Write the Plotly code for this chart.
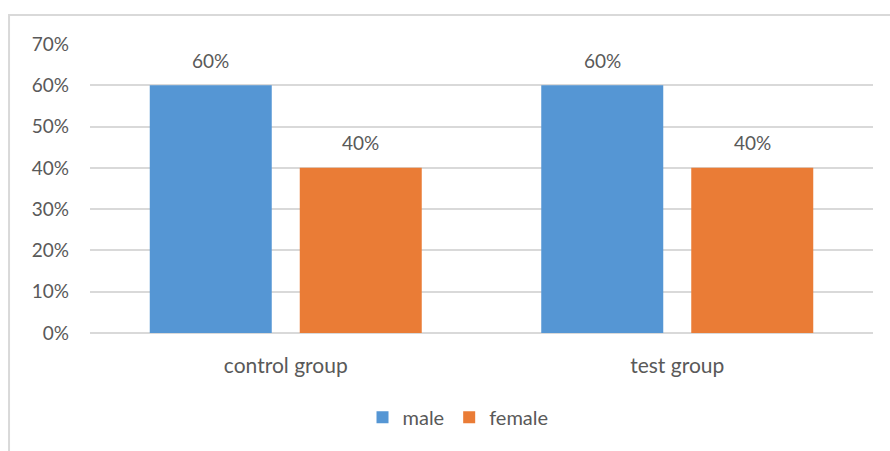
import plotly.graph_objects as go

categories = ["control group", "test group"]
male = [0.60, 0.60]
female = [0.40, 0.40]
tick_vals = [0, 0.1, 0.2, 0.3, 0.4, 0.5, 0.6, 0.7]
tick_text = ["0%", "10%", "20%", "30%", "40%", "50%", "60%", "70%"]

font_family = "Lato, 'Open Sans', sans-serif"
gray = "#595959"

fig = go.Figure()
fig.add_trace(go.Bar(
    name="male", x=categories, y=male,
    marker=dict(color="#5596d4", line=dict(width=0)),
))
fig.add_trace(go.Bar(
    name="female", x=categories, y=female,
    marker=dict(color="#ea7c36", line=dict(width=0)),
))

annotations = []
for series, shift in ((male, -75), (female, 75)):
    for c, v in zip(categories, series):
        annotations.append(dict(x=c, y=v, xref="x", yref="y", text=f"{v:.0%}",
                                showarrow=False, xshift=shift, yshift=25,
                                font=dict(size=19, color=gray, family=font_family)))

fig.update_layout(
    width=890, height=451,
    margin=dict(l=90, r=17, t=44, b=118, autoexpand=False),
    paper_bgcolor="white", plot_bgcolor="white",
    barmode="group", bargap=0.2337, bargroupgap=0.1867,
    font=dict(family=font_family, size=19, color=gray),
    showlegend=True,
    legend=dict(orientation="h", x=0.47, xanchor="center",
                yref="container", y=0.075, yanchor="middle",
                font=dict(size=20, color=gray), itemwidth=30, traceorder="normal"),
    xaxis=dict(showgrid=False, ticks="", showline=False, ticklabelstandoff=18,
               automargin=False, tickfont=dict(size=21, color=gray)),
    yaxis=dict(range=[0, 0.7], tickvals=tick_vals, ticktext=tick_text,
               showgrid=True, gridcolor="#d9d9d9", gridwidth=1.5,
               zeroline=True, zerolinecolor="#d9d9d9", zerolinewidth=1.5,
               automargin=False,
               ticks="", ticklabelstandoff=20, tickfont=dict(size=19, color=gray)),
    annotations=annotations,
    shapes=[dict(type="rect", xref="paper", yref="paper",
                 x0=-0.1034, x1=1.2, y0=-0.6, y1=1.1003,
                 line=dict(color="#d9d9d9", width=2), layer="below")],
)

fig.write_html("out.html")
